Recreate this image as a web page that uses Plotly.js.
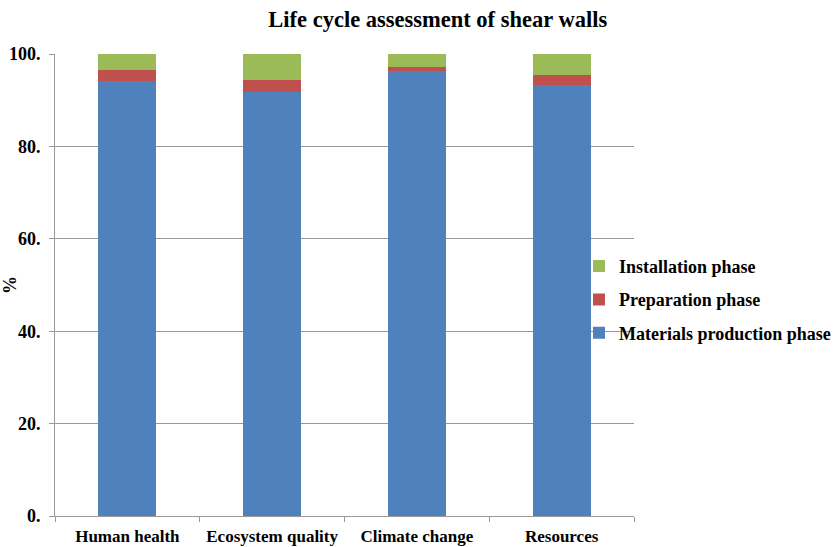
<!DOCTYPE html>
<html>
<head>
<meta charset="utf-8">
<script src="https://cdn.plot.ly/plotly-3.0.1.min.js"></script>
<style>html,body{margin:0;padding:0;background:#fff;}#chart{width:837px;height:547px;}</style>
</head>
<body>
<div id="chart"></div>
<script>
const categories = ["Human health", "Ecosystem quality", "Climate change", "Resources"];
const materialsProduction = [94.1, 91.7, 96.3, 93.3];
const preparation = [2.5, 2.7, 0.8, 2.2];
const installation = [3.4, 5.6, 2.9, 4.5];
const yTickVals = [0, 20, 40, 60, 80, 100];
const yTickText = ["0.", "20.", "40.", "60.", "80.", "100."];

const font = {family: "Liberation Serif, Times New Roman, serif", color: "#000"};

const traces = [
  {type: "bar", name: "Materials production phase", x: categories, y: materialsProduction,
   marker: {color: "#4f81bd"}, legendrank: 3, legendgroup: "m"},
  {type: "bar", name: "Preparation phase", x: categories, y: preparation,
   marker: {color: "#c0504d"}, legendrank: 2, legendgroup: "p"},
  {type: "bar", name: "Installation phase", x: categories, y: installation,
   marker: {color: "#9bbb59"}, legendrank: 1, legendgroup: "i"}
];

const layout = {
  width: 837, height: 547,
  margin: {l: 55, r: 203, t: 54, b: 31, autoexpand: false},
  paper_bgcolor: "#fff", plot_bgcolor: "#fff",
  barmode: "stack", bargap: 0.6,
  font: Object.assign({size: 18}, font),
  title: {text: "<b>Life cycle assessment of shear walls</b>", font: Object.assign({size: 22.5}, font),
          x: 0.523, xanchor: "center", y: 0.965, yanchor: "middle"},
  xaxis: {
    type: "category", showline: true, linecolor: "#999", linewidth: 1,
    ticks: "outside", tickson: "boundaries", ticklen: 5, tickcolor: "#999",
    tickfont: Object.assign({size: 17}, font), showgrid: false, tickangle: 0,
    ticklabelstandoff: 5,
    tickprefix: "<b>", ticksuffix: "</b>"
  },
  yaxis: {
    range: [0, 100], tickvals: yTickVals, ticktext: yTickText.map(t => "<b>" + t + "</b>"),
    showline: true, linecolor: "#999", linewidth: 1,
    ticks: "outside", ticklen: 5, tickcolor: "#999",
    showgrid: true, gridcolor: "#999", gridwidth: 1, zeroline: false,
    tickfont: Object.assign({size: 18}, font), ticklabelstandoff: 5,
    title: {text: "<b>%</b>", font: Object.assign({size: 18}, font), standoff: 4}
  },
  legend: {
    x: 0.905, xanchor: "left", y: 0.468, yanchor: "middle",
    traceorder: "grouped", tracegroupgap: 7, itemwidth: 30,
    bgcolor: "rgba(0,0,0,0)",
    font: Object.assign({size: 18}, font)
  },
  showlegend: true
};

traces.forEach(t => { t.name = "<b>" + t.name + "</b>"; });

Plotly.newPlot("chart", traces, layout, {displayModeBar: false, staticPlot: true});
</script>
</body>
</html>
